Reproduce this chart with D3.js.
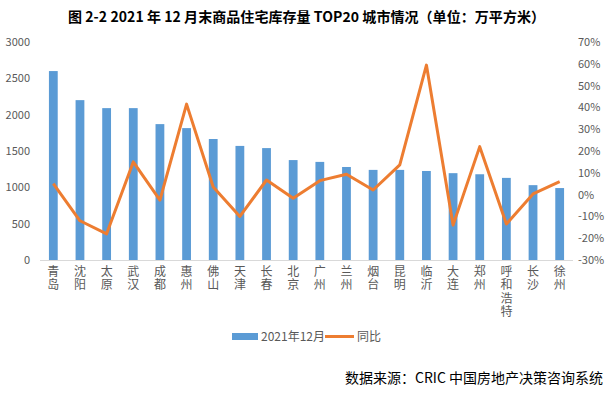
<!DOCTYPE html>
<html>
<head>
<meta charset="utf-8">
<script src="https://cdn.jsdelivr.net/npm/d3@7"></script>
<style>
  body { margin: 0; background: #fff; }
  svg { display: block; }
</style>
</head>
<body>
<svg id="chart" width="614" height="394"></svg>
<script>
// ── DATA ────────────────────────────────────────────
const cities = ['青岛','沈阳','太原','武汉','成都','惠州','佛山','天津','长春','北京',
                '广州','兰州','烟台','昆明','临沂','大连','郑州','呼和浩特','长沙','徐州'];
const stock  = [2600, 2200, 2090, 2090, 1870, 1815, 1665, 1570, 1540, 1375,
                1350, 1280, 1240, 1240, 1225, 1195, 1180, 1130, 1030, 990];
const yoy    = [0.05, -0.12, -0.18, 0.15, -0.025, 0.415, 0.035, -0.10, 0.067, -0.017,
                0.064, 0.093, 0.021, 0.136, 0.594, -0.14, 0.22, -0.135, 0.003, 0.059];
const leftTicks  = [0, 500, 1000, 1500, 2000, 2500, 3000];
const rightTicks = [-0.3, -0.2, -0.1, 0, 0.1, 0.2, 0.3, 0.4, 0.5, 0.6, 0.7];

const title  = '图 2-2 2021 年 12 月末商品住宅库存量 TOP20 城市情况（单位：万平方米）';
const source = '数据来源：CRIC 中国房地产决策咨询系统';

const BLUE = '#5B9BD5', ORANGE = '#ED7D31', GREY = '#595959';
const FONT = '"Noto Sans CJK SC", "Noto Sans", sans-serif';

const svg = d3.select('#chart');
const plot = { left: 40, right: 573, top: 42, bottom: 260 };

const x = d3.scaleBand().domain(cities).range([plot.left, plot.right]).paddingInner(0.67).paddingOuter(0.335);
const y = d3.scaleLinear().domain([0, 3000]).range([plot.bottom, plot.top]);
const y2 = d3.scaleLinear().domain([-0.3, 0.7]).range([plot.bottom, plot.top]);

// title
svg.append('text')
  .attr('x', 68).attr('y', 22)
  .attr('textLength', 477).attr('lengthAdjust', 'spacing')
  .attr('font-family', FONT).attr('font-weight', 'bold').attr('font-size', '14px')
  .attr('fill', '#000')
  .text(title);

// left axis
const gL = svg.append('g').attr('transform', `translate(${plot.left},0)`)
  .call(d3.axisLeft(y).tickValues(leftTicks).tickSize(0).tickPadding(10).tickFormat(d3.format('d')));
gL.select('.domain').remove();
gL.selectAll('text').attr('font-family', FONT).attr('font-size', '11px').attr('fill', GREY);

// right axis
const gR = svg.append('g').attr('transform', `translate(${plot.right},0)`)
  .call(d3.axisRight(y2).tickValues(rightTicks).tickSize(0).tickPadding(5)
    .tickFormat(d => Math.round(d * 100) + '%'));
gR.select('.domain').remove();
gR.selectAll('text').attr('font-family', FONT).attr('font-size', '11px').attr('fill', GREY);

// bars
svg.append('g').selectAll('rect')
  .data(stock)
  .join('rect')
  .attr('x', (d, i) => x(cities[i]))
  .attr('y', d => y(d))
  .attr('width', x.bandwidth())
  .attr('height', d => y(0) - y(d))
  .attr('fill', BLUE);

// baseline
svg.append('line')
  .attr('x1', plot.left).attr('x2', plot.right)
  .attr('y1', plot.bottom + 0.5).attr('y2', plot.bottom + 0.5)
  .attr('stroke', '#D9D9D9').attr('stroke-width', 1);

// line
const line = d3.line()
  .x((d, i) => x(cities[i]) + x.bandwidth() / 2)
  .y(d => y2(d));
svg.append('path')
  .datum(yoy)
  .attr('d', line)
  .attr('fill', 'none')
  .attr('stroke', ORANGE)
  .attr('stroke-width', 3)
  .attr('stroke-linejoin', 'round');

// vertical category labels (vertical writing mode)
svg.append('g').selectAll('text')
  .data(cities)
  .join('text')
  .attr('x', d => x(d) + x.bandwidth() / 2)
  .attr('y', 265)
  .style('writing-mode', 'vertical-rl')
  .style('letter-spacing', '1.5px')
  .attr('font-family', FONT).attr('font-size', '12px').attr('fill', GREY)
  .text(d => d);

// legend
const lg = svg.append('g').attr('font-family', FONT).attr('font-size', '12px').attr('fill', GREY);
lg.append('rect').attr('x', 232).attr('y', 333).attr('width', 26).attr('height', 7).attr('fill', BLUE);
lg.append('text').attr('x', 261).attr('y', 340.5).text('2021年12月');
lg.append('line').attr('x1', 325).attr('x2', 354).attr('y1', 336.5).attr('y2', 336.5)
  .attr('stroke', ORANGE).attr('stroke-width', 3);
lg.append('text').attr('x', 357).attr('y', 340.5).text('同比');

// source
svg.append('text')
  .attr('x', 603).attr('y', 383)
  .attr('text-anchor', 'end')
  .attr('font-family', FONT).attr('font-size', '14px').attr('fill', '#000')
  .text(source);
</script>
</body>
</html>
